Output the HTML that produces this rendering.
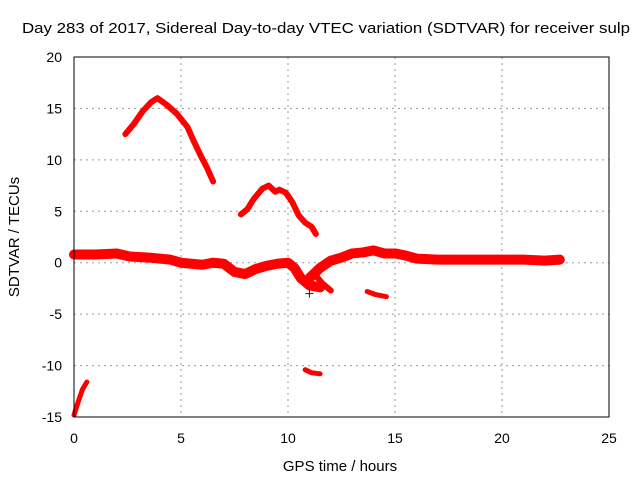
<!DOCTYPE html>
<html><head><meta charset="utf-8"><style>
body{margin:0;background:#fff}
svg{display:block;font-family:"Liberation Sans",sans-serif}
</style></head><body>
<svg id="chart" width="640" height="480">
<text x="22" y="33" font-size="15" textLength="608" lengthAdjust="spacingAndGlyphs">Day 283 of 2017, Sidereal Day-to-day VTEC variation (SDTVAR) for receiver sulp</text>
<text x="340" y="471" font-size="15" text-anchor="middle">GPS time / hours</text>
<text transform="translate(19,237) rotate(-90)" font-size="15" text-anchor="middle">SDTVAR / TECUs</text>
<g id="grid"></g><g id="ticks"></g><g id="marks"></g>
<rect x="74" y="57" width="535" height="360" fill="none" stroke="#000" stroke-width="1"/>
</svg>
<script>
const xTicks=[0,5,10,15,20,25];
const yTicks=[-15,-10,-5,0,5,10,15,20];
const segArcLow=[[0,-14.8],[0.2,-13.5],[0.4,-12.3],[0.6,-11.6]];
const segArcHigh=[[2.4,12.5],[2.8,13.5],[3.2,14.7],[3.6,15.6],[3.9,16],[4.3,15.4],[4.8,14.5],[5.3,13.2],[5.6,11.8],[5.9,10.5],[6.2,9.3],[6.5,7.9]];
const segArcMid=[[7.8,4.7],[8.1,5.2],[8.4,6.2],[8.8,7.2],[9.1,7.5],[9.4,6.9],[9.6,7.1],[9.9,6.8],[10.2,5.9],[10.5,4.6],[10.8,3.9],[11.1,3.5],[11.3,2.8]];
const segBaseA=[[0,0.8],[1,0.8],[2,0.9],[2.6,0.6],[3.5,0.5],[4.5,0.3],[5,0],[5.5,-0.1],[6,-0.2],[6.5,0],[7,-0.1],[7.5,-0.9],[8,-1.1],[8.5,-0.6],[9,-0.3],[9.5,-0.1],[10,0],[10.3,-0.5],[10.6,-1.5],[11,-2.2],[11.5,-2.4]];
const segBaseB=[[11,-1.5],[11.5,-0.5],[12,0.2],[12.5,0.5],[13,0.9],[13.5,1.0],[14,1.2],[14.5,0.9],[15,0.9],[15.5,0.7],[16,0.4],[17,0.3],[18,0.3],[19,0.3],[20,0.3],[21,0.3],[22,0.2],[22.7,0.3]];
const segBranch=[[11.2,-1],[11.6,-2],[12,-2.7]];
const segSmallA=[[13.7,-2.8],[14.1,-3.1],[14.6,-3.3]];
const segSmallB=[[10.8,-10.4],[11.1,-10.7],[11.5,-10.8]];
const singlePoints=[[11,-3]];
const NS='http://www.w3.org/2000/svg';
const X=v=>74+v*(535/25), Y=v=>417-(v+15)*(360/35);
const grid=document.getElementById('grid'),ticks=document.getElementById('ticks'),marks=document.getElementById('marks');
function mk(tag,attrs,parent){const e=document.createElementNS(NS,tag);for(const k in attrs)e.setAttribute(k,attrs[k]);parent.appendChild(e);return e;}
xTicks.forEach(t=>{
  if(t>0&&t<25){const g=mk('line',{x1:X(t),x2:X(t),y1:57,y2:417,stroke:'#999','stroke-dasharray':'2,4'},grid);
  
  }
  const tx=mk('text',{x:X(t),y:443,'font-size':14,'text-anchor':'middle'},ticks);tx.textContent=t;
  
  
});
yTicks.forEach(t=>{
  if(t>-15&&t<20){const g=mk('line',{x1:74,x2:609,y1:Y(t),y2:Y(t),stroke:'#999','stroke-dasharray':'2,4'},grid);
  
  }
  const tx=mk('text',{x:62,y:Y(t)+5,'font-size':14,'text-anchor':'end'},ticks);tx.textContent=t;
  
  
});
const segs=[[segArcLow,5],[segArcHigh,6],[segArcMid,6],[segBaseA,10],[segBaseB,10],[segBranch,6],[segSmallA,5],[segSmallB,5]];
segs.forEach(([d,w])=>{
  const p=mk('polyline',{points:d.map(q=>X(q[0])+','+Y(q[1])).join(' '),fill:'none',stroke:'#f00','stroke-width':w,'stroke-linejoin':'round','stroke-linecap':'round'},marks);
  
  
});
singlePoints.forEach(q=>{
  const p=mk('path',{d:`M${X(q[0])-4},${Y(q[1])}h8M${X(q[0])},${Y(q[1])-4}v8`,stroke:'#600','stroke-width':1},marks);
  
  
});
</script>
</body></html>
